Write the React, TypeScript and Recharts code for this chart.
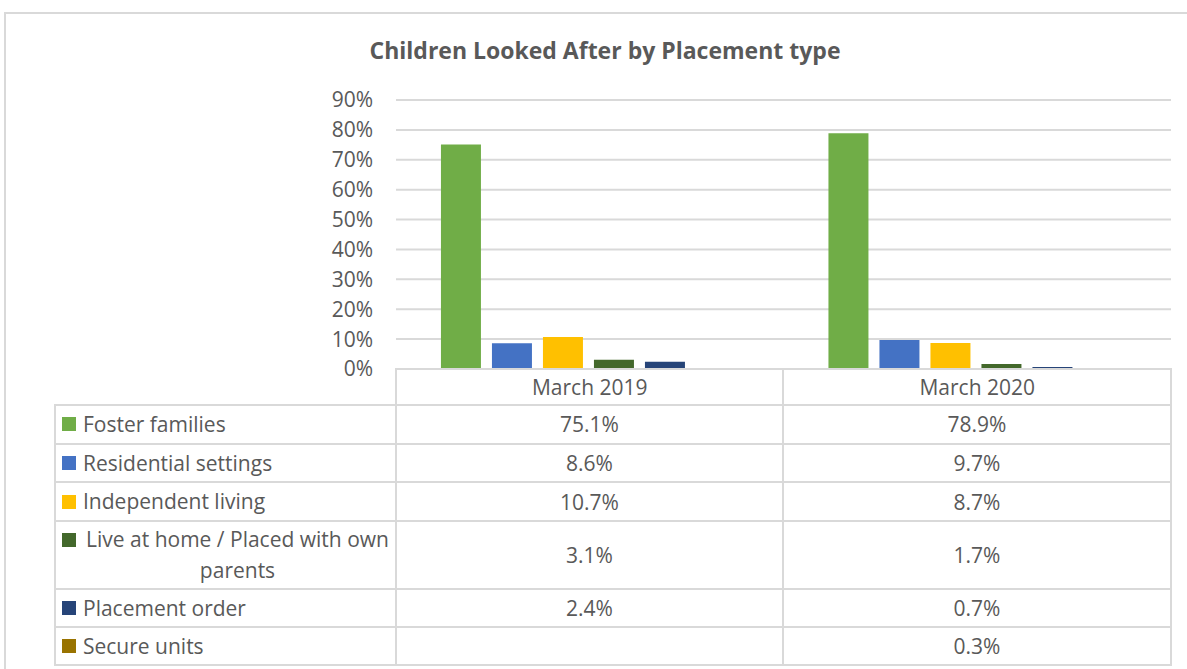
import React from 'react';
import { BarChart, Bar, XAxis, YAxis, CartesianGrid } from 'recharts';

const CATEGORIES = ['March 2019', 'March 2020'];
const FOSTER_FAMILIES = [75.1, 78.9];
const RESIDENTIAL_SETTINGS = [8.6, 9.7];
const INDEPENDENT_LIVING = [10.7, 8.7];
const LIVE_AT_HOME = [3.1, 1.7];
const PLACEMENT_ORDER = [2.4, 0.7];
const SECURE_UNITS: (number | null)[] = [null, 0.3];
const Y_TICKS = [0, 10, 20, 30, 40, 50, 60, 70, 80, 90];

const SERIES = [
  { key: 'foster', name: 'Foster families', values: FOSTER_FAMILIES, color: '#70AD47' },
  { key: 'residential', name: 'Residential settings', values: RESIDENTIAL_SETTINGS, color: '#4472C4' },
  { key: 'independent', name: 'Independent living', values: INDEPENDENT_LIVING, color: '#FFC000' },
  { key: 'home', name: 'Live at home / Placed with own parents', values: LIVE_AT_HOME, color: '#43682B' },
  { key: 'placement', name: 'Placement order', values: PLACEMENT_ORDER, color: '#264478' },
  { key: 'secure', name: 'Secure units', values: SECURE_UNITS, color: '#997300' },
];

const data = CATEGORIES.map((c, i) => {
  const row: any = { category: c };
  SERIES.forEach((s) => (row[s.key] = s.values[i]));
  return row;
});

const TEXT = '#595959';
const LINE = '#D9D9D9';
const FONT = '"Open Sans", sans-serif';
const FS = 21;
const LH = 30.5;

// table geometry
const X_LEFT = 55;
const X_PLOT = 396;
const X_MID = 783;
const X_RIGHT = 1171;
const Y_AXIS = 369;
const ROW_TOPS = [405, 443.5, 482, 521, 588.5, 627];
const ROW_END = 665;

const fmt = (v: number | null) => (v == null ? '' : `${v.toFixed(1)}%`);

function hLine(y: number, x1: number, x2: number, k: string) {
  return <div key={k} style={{ position: 'absolute', left: x1 - 1, top: y - 1, width: x2 - x1 + 2, height: 2, background: LINE }} />;
}
function vLine(x: number, y1: number, y2: number, k: string) {
  return <div key={k} style={{ position: 'absolute', left: x - 1, top: y1 - 1, width: 2, height: y2 - y1 + 2, background: LINE }} />;
}

export default function App() {
  const lines: React.ReactNode[] = [];
  [...ROW_TOPS, ROW_END].forEach((y, i) => lines.push(hLine(y, X_LEFT, X_RIGHT, 'h' + i)));
  lines.push(vLine(X_LEFT, ROW_TOPS[0], ROW_END, 'v0'));
  [X_PLOT, X_MID, X_RIGHT].forEach((x, i) => lines.push(vLine(x, Y_AXIS, ROW_END, 'v' + (i + 1))));

  return (
    <div style={{ position: 'absolute', left: 0, top: 0, width: 1187, height: 669, overflow: 'hidden', background: '#fff', fontFamily: FONT, color: TEXT }}>
      <div style={{ position: 'absolute', left: 4, top: 12, width: 1300, height: 800, border: `2px solid ${LINE}`, boxSizing: 'border-box' }} />
      <div style={{ position: 'absolute', left: 0, top: 34, width: 1210, textAlign: 'center', fontSize: 23, fontWeight: 700, lineHeight: '32px' }}>
        Children Looked After by Placement type
      </div>
      <div style={{ position: 'absolute', left: 0, top: 0 }}>
        <BarChart
          width={1187}
          height={669}
          data={data}
          margin={{ top: 100, right: 1187 - X_RIGHT, left: X_PLOT - 60, bottom: 669 - 405 }}
          barCategoryGap="11.6%"
          barGap={11}
        >
          <CartesianGrid vertical={false} stroke={LINE} strokeWidth={2} />
          <XAxis
            dataKey="category"
            height={36}
            interval={0}
            axisLine={{ stroke: LINE, strokeWidth: 2 }}
            tickLine={false}
            tickMargin={5}
            tick={{ fill: TEXT, fontSize: FS, fontFamily: FONT }}
          />
          <YAxis
            width={60}
            domain={[0, 90]}
            ticks={Y_TICKS}
            interval={0}
            axisLine={false}
            tickLine={false}
            tickMargin={17}
            tickFormatter={(v: number) => `${v}%`}
            tick={{ fill: TEXT, fontSize: FS, fontFamily: FONT }}
          />
          {SERIES.map((s) => (
            <Bar key={s.key} dataKey={s.key} name={s.name} fill={s.color} isAnimationActive={false} />
          ))}
        </BarChart>
      </div>
      {lines}
      {SERIES.map((s, r) => {
        const top = ROW_TOPS[r];
        const bottom = r + 1 < ROW_TOPS.length ? ROW_TOPS[r + 1] : ROW_END;
        const h = bottom - top;
        return (
          <React.Fragment key={s.key}>
            <div style={{ position: 'absolute', left: 62, top, width: 392 - 62, height: h, display: 'flex', alignItems: 'center' }}>
              <div style={{ display: 'flex', alignItems: 'flex-start', fontSize: FS, lineHeight: `${LH}px` }}>
                <div style={{ width: 14, height: 14, background: s.color, marginTop: (LH - 14) / 2, marginRight: 7, flexShrink: 0 }} />
                <div style={{ textAlign: 'center' }}>{s.name}</div>
              </div>
            </div>
            {s.values.map((v, c) => (
              <div
                key={c}
                style={{
                  position: 'absolute',
                  left: c === 0 ? X_PLOT : X_MID,
                  top,
                  width: c === 0 ? X_MID - X_PLOT : X_RIGHT - X_MID,
                  height: h,
                  display: 'flex',
                  alignItems: 'center',
                  justifyContent: 'center',
                  fontSize: FS,
                }}
              >
                {fmt(v)}
              </div>
            ))}
          </React.Fragment>
        );
      })}
    </div>
  );
}
